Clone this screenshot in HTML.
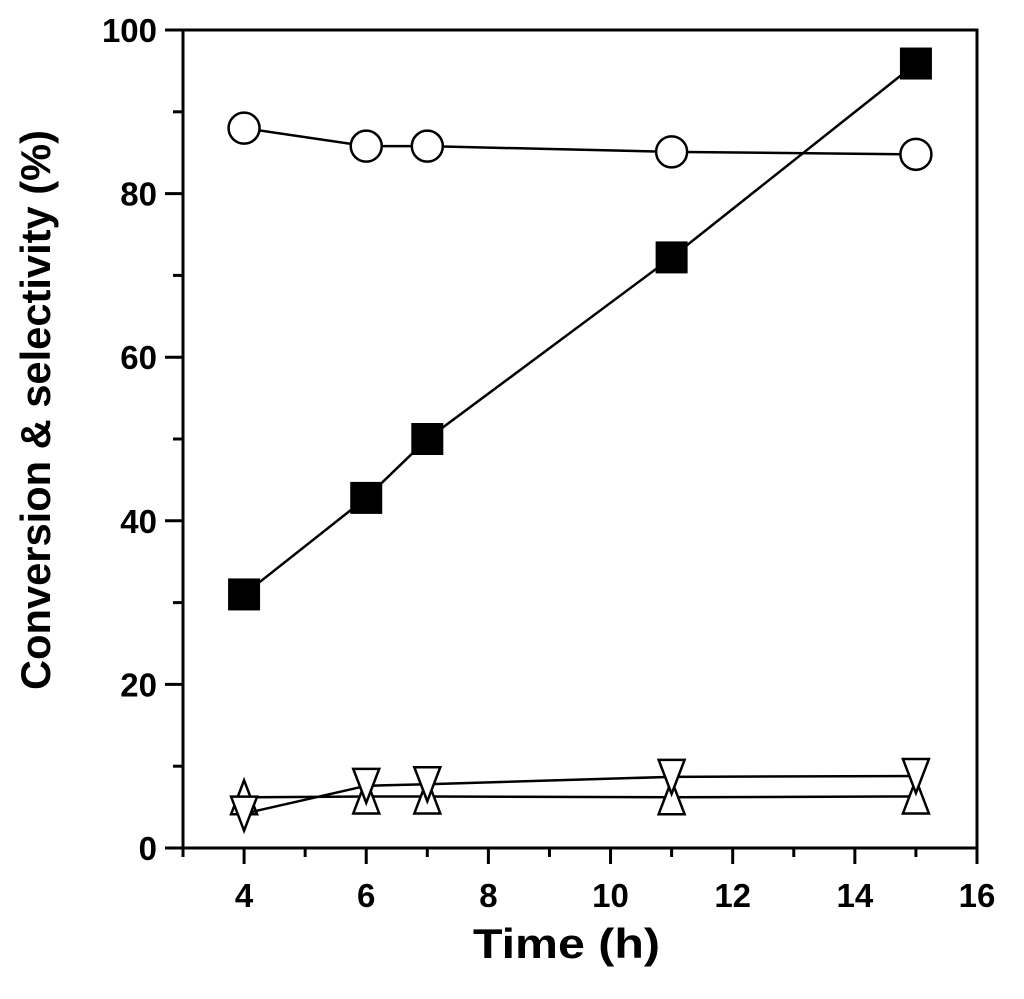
<!DOCTYPE html>
<html><head><meta charset="utf-8"><style>
body{margin:0;background:#fff;}
svg{display:block;font-family:"Liberation Sans",Arial,sans-serif;font-weight:bold;}
</style></head><body>
<svg id="chart" width="1024" height="999" viewBox="0 0 1024 999"></svg>
<script>
const times = [4, 6, 7, 11, 15];
const conversion = [31.0, 42.8, 50.0, 72.2, 95.9];
const selectivityMain = [88.0, 85.8, 85.8, 85.1, 84.8];
const selectivityDown = [4.2, 7.6, 7.8, 8.7, 8.8];
const selectivityUp = [6.2, 6.3, 6.3, 6.2, 6.3];
const xTicks = [4, 6, 8, 10, 12, 14, 16];
const yTicks = [0, 20, 40, 60, 80, 100];

const L=183,R=977,T=30,B=848;
const xs=v=>L+(v-3)/(16-3)*(R-L);
const ys=v=>B-v/100*(B-T);
const svg=document.getElementById('chart');
const NS='http://www.w3.org/2000/svg';
function mk(tag,attrs,parent){const e=document.createElementNS(NS,tag);for(const k in attrs)e.setAttribute(k,attrs[k]);(parent||svg).appendChild(e);return e;}

const frame=mk('rect',{x:L,y:T,width:R-L,height:B-T,fill:'none',stroke:'#000','stroke-width':3});



for(let v=3;v<=16;v++){
  const major=v%2===0;
  const t=mk('line',{x1:xs(v),x2:xs(v),y1:B,y2:B+(major?16:9),stroke:'#000','stroke-width':3});
  
  
}
xTicks.forEach(v=>{
  const t=mk('text',{x:xs(v),y:B+59,'text-anchor':'middle','font-size':33});
  t.textContent=v;
  
  
});
for(let v=0;v<=100;v+=10){
  const major=v%20===0;
  const t=mk('line',{x1:L-(major?18:10),x2:L,y1:ys(v),y2:ys(v),stroke:'#000','stroke-width':3});
  
  
}
yTicks.forEach(v=>{
  const t=mk('text',{x:L-26,y:ys(v)+12,'text-anchor':'end','font-size':33});
  t.textContent=v;
  
  
});
const xt=mk('text',{x:473,y:958,'font-size':42,textLength:187,lengthAdjust:'spacingAndGlyphs'});
xt.textContent='Time (h)';


const yt=mk('text',{x:0,y:0,'font-size':42,textLength:560,lengthAdjust:'spacingAndGlyphs',transform:`translate(50,690) rotate(-90)`});
yt.textContent='Conversion & selectivity (%)';



function series(vals,name,marker){
  const g=mk('g',{});
  
  
  const pts=times.map((t,i)=>xs(t)+','+ys(vals[i])).join(' ');
  const pl=mk('polyline',{points:pts,fill:'none',stroke:'#000','stroke-width':2.5},g);
  
  
  times.forEach((t,i)=>{
    const x=xs(t),y=ys(vals[i]);let m;
    if(marker==='square')m=mk('rect',{x:x-16,y:y-16,width:32,height:32,fill:'#000'},g);
    else if(marker==='circle')m=mk('circle',{cx:x,cy:y,r:15.5,fill:'#fff',stroke:'#000','stroke-width':2.5},g);
    else if(marker==='up')m=mk('polygon',{points:`${x-13},${y+17} ${x+13},${y+17} ${x},${y-17}`,fill:'#fff',stroke:'#000','stroke-width':2.5},g);
    else m=mk('polygon',{points:`${x-13},${y-17} ${x+13},${y-17} ${x},${y+17}`,fill:'#fff',stroke:'#000','stroke-width':2.5},g);
    
    
  });
}
series(selectivityUp,'series-up-triangle','up');
series(selectivityDown,'series-down-triangle','down');
series(selectivityMain,'series-circle','circle');
series(conversion,'series-conversion','square');
</script>
</body></html>
